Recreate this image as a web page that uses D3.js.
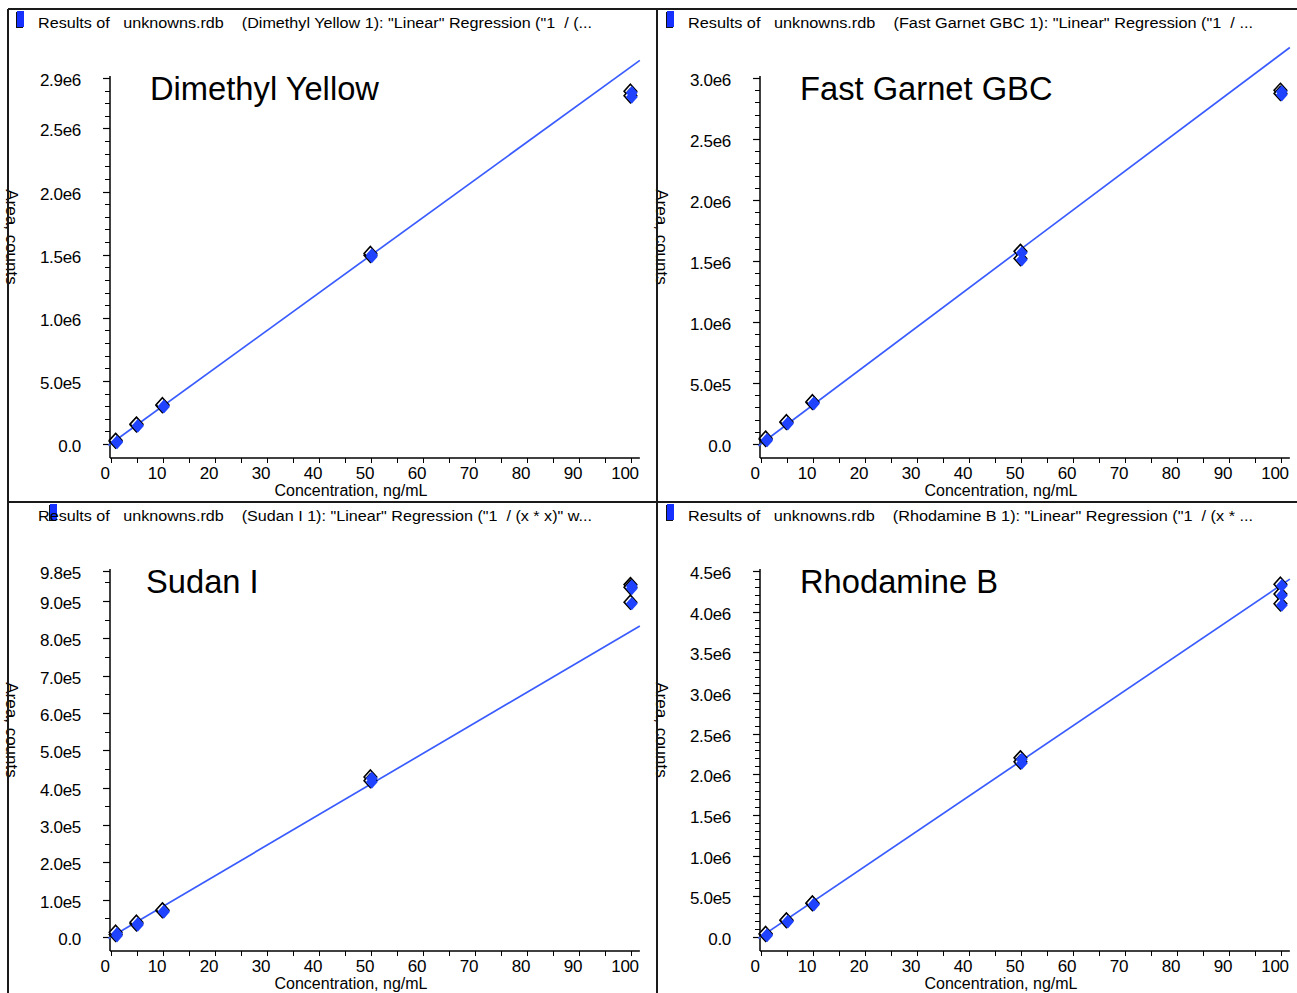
<!DOCTYPE html>
<html>
<head>
<meta charset="utf-8">
<script src="https://cdn.jsdelivr.net/npm/d3@7"></script>
<style>
  html, body { margin: 0; padding: 0; background: #fff; }
  svg { display: block; }
  text { font-family: "Liberation Sans", Arial, sans-serif; fill: #000; }
</style>
</head>
<body>
<svg id="chart" width="1297" height="993"></svg>
<script>
// ---------------- DATA ----------------
const panelNames = ["Dimethyl Yellow", "Fast Garnet GBC", "Sudan I", "Rhodamine B"];
const headerTexts = [
  'Results of   unknowns.rdb    (Dimethyl Yellow 1): "Linear" Regression ("1  / (...',
  'Results of   unknowns.rdb    (Fast Garnet GBC 1): "Linear" Regression ("1  / ...',
  'Results of   unknowns.rdb    (Sudan I 1): "Linear" Regression ("1  / (x * x)" w...',
  'Results of   unknowns.rdb    (Rhodamine B 1): "Linear" Regression ("1  / (x * ...'
];
const xAxisTitle = "Concentration, ng/mL";
const yAxisTitle = "Area, counts";
const xTickValues = [0, 10, 20, 30, 40, 50, 60, 70, 80, 90, 100];

// Dimethyl Yellow
const concDY = [1, 1, 5, 5, 10, 10, 50, 50, 100, 100];
const areaDY = [1.8e4, 2.4e4, 1.48e5, 1.53e5, 3.0e5, 3.06e5, 1.49e6, 1.505e6, 2.79e6, 2.755e6];
const fitDY = [-1.2e4, 3.04e6];
const yTicksDY = [0, 5e5, 1e6, 1.5e6, 2e6, 2.5e6, 2.9e6];
const yLabelsDY = ["0.0", "5.0e5", "1.0e6", "1.5e6", "2.0e6", "2.5e6", "2.9e6"];

// Fast Garnet GBC
const concFG = [1, 1, 5, 5, 10, 10, 50, 50, 100, 100];
const areaFG = [3.3e4, 4.3e4, 1.72e5, 1.78e5, 3.36e5, 3.42e5, 1.574e6, 1.516e6, 2.894e6, 2.869e6];
const fitFG = [-1.5e4, 3.25e6];
const yTicksFG = [0, 5e5, 1e6, 1.5e6, 2e6, 2.5e6, 3e6];
const yLabelsFG = ["0.0", "5.0e5", "1.0e6", "1.5e6", "2.0e6", "2.5e6", "3.0e6"];

// Sudan I
const concSU = [1, 1, 5, 5, 10, 10, 50, 50, 100, 100, 100];
const areaSU = [5.3e3, 1.1e4, 3.4e4, 3.8e4, 6.9e4, 7.1e4, 4.27e5, 4.17e5, 9.42e5, 9.35e5, 8.95e5];
const fitSU = [-4e3, 8.33e5];
const yTicksSU = [0, 1e5, 2e5, 3e5, 4e5, 5e5, 6e5, 7e5, 8e5, 9e5, 9.8e5];
const yLabelsSU = ["0.0", "1.0e5", "2.0e5", "3.0e5", "4.0e5", "5.0e5", "6.0e5", "7.0e5", "8.0e5", "9.0e5", "9.8e5"];

// Rhodamine B
const concRB = [1, 1, 5, 5, 10, 10, 50, 50, 100, 100, 100];
const areaRB = [2.5e4, 3.6e4, 1.96e5, 2.02e5, 4.05e5, 4.1e5, 2.195e6, 2.146e6, 4.33e6, 4.21e6, 4.09e6];
const fitRB = [-1.8e4, 4.4e6];
const yTicksRB = [0, 5e5, 1e6, 1.5e6, 2e6, 2.5e6, 3e6, 3.5e6, 4e6, 4.5e6];
const yLabelsRB = ["0.0", "5.0e5", "1.0e6", "1.5e6", "2.0e6", "2.5e6", "3.0e6", "3.5e6", "4.0e6", "4.5e6"];

const fitConc = [-0.5, 101.7];
const yMinorSteps = [1e5, 1e5, 5e4, 1e5];

// ---------------- DRAW ----------------
const panels = [
  { conc: concDY, area: areaDY, fit: fitDY, ticks: yTicksDY, labels: yLabelsDY, ox: 0,   oy: 0,   sqx: 17, tx: 150 },
  { conc: concFG, area: areaFG, fit: fitFG, ticks: yTicksFG, labels: yLabelsFG, ox: 650, oy: 0,   sqx: 17, tx: 150 },
  { conc: concSU, area: areaSU, fit: fitSU, ticks: yTicksSU, labels: yLabelsSU, ox: 0,   oy: 493, sqx: 50, tx: 146 },
  { conc: concRB, area: areaRB, fit: fitRB, ticks: yTicksRB, labels: yLabelsRB, ox: 650, oy: 493, sqx: 17, tx: 150 }
];

const svg = d3.select("#chart");
const markerFill = "#1f43ff";
const lineColor = "#3a5cff";

panels.forEach((p, i) => {
  const g = svg.append("g").attr("transform", `translate(${p.ox},${p.oy})`);
  const yMax = p.ticks[p.ticks.length - 1];
  const x = d3.scaleLinear().domain([0, 100]).range([111, 631]);
  const y = d3.scaleLinear().domain([0, yMax]).range([444, 78]);
  const axisX = 110, axisY = 458;

  // header
  g.append("rect").attr("x", p.sqx - 1).attr("y", 12).attr("width", 7).attr("height", 16).attr("fill", "#111");
  g.append("rect").attr("x", p.sqx).attr("y", 11).attr("width", 7).attr("height", 16).attr("fill", "#1530ff");
  g.append("text").attr("x", 38).attr("y", 28)
    .attr("font-size", 15.5).attr("xml:space", "preserve").style("white-space", "pre")
    .attr("textLength", i % 2 === 0 ? 554 : 565).attr("lengthAdjust", "spacingAndGlyphs")
    .text(headerTexts[i]);

  // big title
  g.append("text").attr("x", p.tx).attr("y", 100).attr("font-size", 32.7).text(panelNames[i]);

  // y axis title (rotated)
  g.append("text").attr("transform", "translate(6,237) rotate(90)")
    .attr("text-anchor", "middle").attr("font-size", 17).text(yAxisTitle);

  // y axis line
  g.append("line").attr("x1", axisX).attr("x2", axisX).attr("y1", y(yMax) - 2).attr("y2", axisY)
    .attr("stroke", "#000").attr("stroke-width", 1.5);
  // minor y ticks
  const minor = d3.range(0, yMax + 1, yMinorSteps[i]);
  g.selectAll(".ymin").data(minor).enter().append("line")
    .attr("x1", axisX - 5).attr("x2", axisX).attr("y1", d => Math.round(y(d)) + 0.5).attr("y2", d => Math.round(y(d)) + 0.5)
    .attr("stroke", "#000").attr("stroke-width", 1);
  g.selectAll(".ymaj").data(p.ticks).enter().append("line")
    .attr("x1", axisX - 7).attr("x2", axisX).attr("y1", d => Math.round(y(d)) + 0.5).attr("y2", d => Math.round(y(d)) + 0.5)
    .attr("stroke", "#000").attr("stroke-width", 1.2);
  g.selectAll(".ylab").data(p.ticks).enter().append("text")
    .attr("x", axisX - 29).attr("y", d => y(d) + 2).attr("dy", "0.35em")
    .attr("text-anchor", "end").attr("font-size", 17).attr("letter-spacing", -0.3)
    .text((d, k) => p.labels[k]);

  // x axis line
  g.append("line").attr("x1", axisX).attr("x2", x(101.7)).attr("y1", axisY).attr("y2", axisY)
    .attr("stroke", "#000").attr("stroke-width", 1.5);
  const xMinor = d3.range(0, 101, 5);
  g.selectAll(".xmin").data(xMinor).enter().append("line")
    .attr("x1", d => Math.round(x(d)) + 0.5).attr("x2", d => Math.round(x(d)) + 0.5)
    .attr("y1", axisY).attr("y2", axisY + 5)
    .attr("stroke", "#000").attr("stroke-width", 1);
  g.selectAll(".xlab").data(xTickValues).enter().append("text")
    .attr("x", d => x(d) - 6).attr("y", 478.5)
    .attr("text-anchor", "middle").attr("font-size", 17).attr("letter-spacing", -0.3)
    .text(d => d);
  g.append("text").attr("x", 351).attr("y", 496).attr("text-anchor", "middle")
    .attr("font-size", 16).text(xAxisTitle);

  // regression line
  g.append("line")
    .attr("x1", x(fitConc[0])).attr("y1", y(p.fit[0]))
    .attr("x2", x(fitConc[1])).attr("y2", y(p.fit[1]))
    .attr("stroke", lineColor).attr("stroke-width", 1.7);

  // markers (diamonds with dark outline + blue fill slightly offset)
  const pts = p.conc.map((c, k) => ({ c, a: p.area[k] }));
  const dia = (cx, cy, r) => `M${cx},${cy - r}L${cx + r * 0.9},${cy}L${cx},${cy + r}L${cx - r * 0.9},${cy}Z`;
  g.selectAll(".mo").data(pts).enter().append("path")
    .attr("d", d => dia(x(d.c) - 0.6, y(d.a) - 0.6, 7))
    .attr("fill", "#fff").attr("stroke", "#000").attr("stroke-width", 1.6);
  g.selectAll(".mf").data(pts).enter().append("path")
    .attr("d", d => dia(x(d.c) + 0.8, y(d.a) + 0.8, 6.6))
    .attr("fill", markerFill);
});

// panel frame lines
const frame = [
  [8, 9, 1297, 9],
  [8, 9, 8, 993],
  [657, 9, 657, 993],
  [8, 502, 1297, 502]
];
svg.selectAll(".frame").data(frame).enter().append("line")
  .attr("x1", d => d[0]).attr("y1", d => d[1]).attr("x2", d => d[2]).attr("y2", d => d[3])
  .attr("stroke", "#1a1a1a").attr("stroke-width", 2);
</script>
</body>
</html>
